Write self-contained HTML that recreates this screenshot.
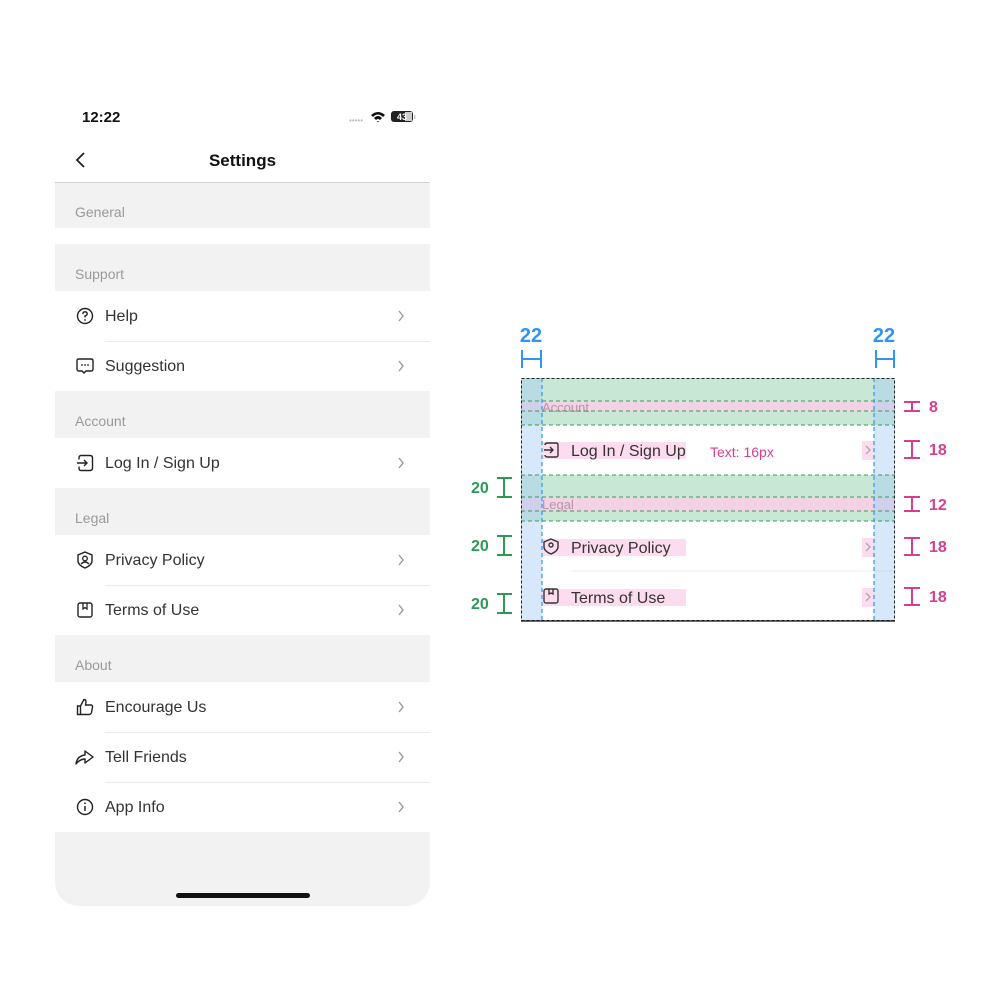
<!DOCTYPE html>
<html><head><meta charset="utf-8"><style>
*{margin:0;padding:0;box-sizing:border-box}
body{width:1000px;height:1000px;background:#fff;position:relative;overflow:hidden;font-family:"Liberation Sans",sans-serif}
.a{position:absolute}
.sec{position:absolute;left:55px;width:375px;background:#f2f2f2}
.sec span{position:absolute;left:20px;font-size:14px;color:#999}
.row{position:absolute;left:55px;width:375px;height:50px;background:#fff}
.row .t{position:absolute;left:50px;top:16px;font-size:16px;color:#333;line-height:20px}
.row .ch{position:absolute;left:342px;top:18px}
.row .ic{position:absolute;left:21px;top:16px}
.sep{position:absolute;left:105px;width:325px;height:1px;background:#ececec}
</style></head><body>
<div class="a" style="left:82px;top:109px;font-size:15px;font-weight:bold;color:#111">12:22</div>
<div class="a" style="left:349px;top:116px;font-size:8px;color:#bbb;letter-spacing:0px">•••••</div>
<svg class="a" style="left:370px;top:110px" width="48" height="14" viewBox="0 0 48 14">
<path d="M1 5 Q8 -1 15 5 L13 7 Q8 2 3 7Z M4 8 Q8 4 12 8 L10 10 Q8 8 6 10Z M7 11 L8 12.5 L9 11Z" fill="#111"/>
<rect x="21" y="1" width="22" height="11" rx="3" fill="#222"/><rect x="35" y="2" width="7" height="9" fill="#ccc"/>
<text x="27" y="10" font-size="9" font-weight="bold" fill="#fff" font-family="Liberation Sans">43</text>
<rect x="44" y="5" width="1.5" height="4" fill="#ccc"/></svg>
<svg class="a" style="left:74px;top:152px" width="12" height="16"><path d="M10 1 L3 8 L10 15" stroke="#222" stroke-width="1.8" fill="none"/></svg>
<div class="a" style="left:55px;width:375px;top:151px;text-align:center;font-size:17px;font-weight:bold;color:#111">Settings</div>
<div class="a" style="left:55px;top:182px;width:375px;height:1px;background:#d0d0d0"></div>

<div class="sec" style="top:183px;height:45px"><span style="top:21px">General</span></div>
<div class="sec" style="top:244px;height:47px"><span style="top:22px">Support</span></div>
<div class="row" style="top:291px"><svg class="ic" width="18" height="18"><circle cx="9" cy="9" r="7.5" stroke="#222" stroke-width="1.4" fill="none"/><path d="M6.8 7 Q7 4.8 9 4.8 Q11.2 4.8 11.2 6.8 Q11.2 8.3 9 9 L9 10.5" stroke="#222" stroke-width="1.4" fill="none"/><circle cx="9" cy="13" r="0.9" fill="#222"/></svg><span class="t">Help</span><svg class="ch" width="8" height="14"><path d="M2 2 L6 7 L2 12" stroke="#999" stroke-width="1.4" fill="none"/></svg></div>
<div class="sep" style="top:341px"></div>
<div class="row" style="top:342px;height:49px"><svg class="ic" width="18" height="18" style="top:15px"><path d="M3 2 H15 Q17 2 17 4 V12 Q17 14 15 14 H10 L8 16 L6 14 H3 Q1 14 1 12 V4 Q1 2 3 2Z" stroke="#222" stroke-width="1.4" fill="none"/><circle cx="6" cy="8" r=".9" fill="#222"/><circle cx="9" cy="8" r=".9" fill="#222"/><circle cx="12" cy="8" r=".9" fill="#222"/></svg><span class="t" style="top:15px">Suggestion</span><svg class="ch" width="8" height="14" style="top:17px"><path d="M2 2 L6 7 L2 12" stroke="#999" stroke-width="1.4" fill="none"/></svg></div>
<div class="sec" style="top:391px;height:47px"><span style="top:22px">Account</span></div>
<div class="row" style="top:438px"><svg class="ic" width="18" height="18"><path d="M5 1.5 H14 Q16.5 1.5 16.5 4 V14 Q16.5 16.5 14 16.5 H5 Q3 16.5 3 14 V12.5 M3 5.5 V4 Q3 1.5 5 1.5 M1 9 H11 M8 6 L11 9 L8 12" stroke="#222" stroke-width="1.4" fill="none"/></svg><span class="t">Log In / Sign Up</span><svg class="ch" width="8" height="14"><path d="M2 2 L6 7 L2 12" stroke="#999" stroke-width="1.4" fill="none"/></svg></div>
<div class="sec" style="top:488px;height:47px"><span style="top:22px">Legal</span></div>
<div class="row" style="top:535px"><svg class="ic" width="18" height="18"><path d="M9 1 L16 4 V10 Q16 14 9 17 Q2 14 2 10 V4Z" stroke="#222" stroke-width="1.4" fill="none"/><circle cx="9" cy="7.5" r="2.3" stroke="#222" stroke-width="1.3" fill="none"/><path d="M5 13 Q9 9 13 13" stroke="#222" stroke-width="1.3" fill="none"/></svg><span class="t">Privacy Policy</span><svg class="ch" width="8" height="14"><path d="M2 2 L6 7 L2 12" stroke="#999" stroke-width="1.4" fill="none"/></svg></div>
<div class="sep" style="top:585px"></div>
<div class="row" style="top:586px;height:49px"><svg class="ic" width="18" height="18" style="top:15px"><rect x="2" y="2" width="14" height="14" rx="2" stroke="#222" stroke-width="1.4" fill="none"/><path d="M7 2 V8 L9 6.5 L11 8 V2" stroke="#222" stroke-width="1.3" fill="none"/></svg><span class="t" style="top:15px">Terms of Use</span><svg class="ch" width="8" height="14" style="top:17px"><path d="M2 2 L6 7 L2 12" stroke="#999" stroke-width="1.4" fill="none"/></svg></div>
<div class="sec" style="top:635px;height:47px"><span style="top:22px">About</span></div>
<div class="row" style="top:682px"><svg class="ic" width="18" height="18"><path d="M1.5 8 H4.5 V16.5 H1.5Z M4.5 8 L8 1.5 Q10 1.5 10 4 L9.5 7 H15 Q16.8 7 16.5 9 L15.5 14.5 Q15 16.5 13 16.5 H4.5" stroke="#222" stroke-width="1.4" fill="none"/></svg><span class="t">Encourage Us</span><svg class="ch" width="8" height="14"><path d="M2 2 L6 7 L2 12" stroke="#999" stroke-width="1.4" fill="none"/></svg></div>
<div class="sep" style="top:732px"></div>
<div class="row" style="top:733px;height:49px"><svg class="ic" width="20" height="18" style="left:20px;top:15px"><path d="M1 16 Q2 8 10 7 V3 L18 9 L10 15 V11 Q5 11 1 16Z" stroke="#222" stroke-width="1.4" fill="none" stroke-linejoin="round"/></svg><span class="t" style="top:15px">Tell Friends</span><svg class="ch" width="8" height="14" style="top:17px"><path d="M2 2 L6 7 L2 12" stroke="#999" stroke-width="1.4" fill="none"/></svg></div>
<div class="sep" style="top:782px"></div>
<div class="row" style="top:783px;height:49px"><svg class="ic" width="18" height="18" style="top:15px"><circle cx="9" cy="9" r="7.5" stroke="#222" stroke-width="1.4" fill="none"/><path d="M9 8 V13" stroke="#222" stroke-width="1.5"/><circle cx="9" cy="5.3" r=".9" fill="#222"/></svg><span class="t" style="top:15px">App Info</span><svg class="ch" width="8" height="14" style="top:17px"><path d="M2 2 L6 7 L2 12" stroke="#999" stroke-width="1.4" fill="none"/></svg></div>
<div class="a" style="left:55px;top:832px;width:375px;height:74px;background:#f2f2f2;border-radius:0 0 24px 24px"></div>
<div class="a" style="left:176px;top:893px;width:134px;height:5px;border-radius:3px;background:#111"></div>

<svg class="a" style="left:0;top:0" width="1000" height="1000" font-family="Liberation Sans">
<rect x="521" y="378" width="374" height="243" fill="#fff"/>
<rect x="521" y="378" width="374" height="47" fill="#c9e7d5"/>
<rect x="521" y="475" width="374" height="46" fill="#c9e7d5"/>
<rect x="521" y="401" width="374" height="10" fill="#f3d2e6"/>
<rect x="521" y="497" width="374" height="14" fill="#f3d2e6"/>
<text x="542" y="412" font-size="13" fill="#b794a8">Account</text>
<text x="542" y="509" font-size="13" fill="#b794a8">Legal</text>
<rect x="542" y="442" width="144" height="17" fill="#fddcef"/>
<rect x="542" y="539" width="144" height="17" fill="#fddcef"/>
<rect x="542" y="589" width="144" height="17" fill="#fddcef"/>
<rect x="862" y="441" width="12" height="19" fill="#fddcef"/>
<rect x="862" y="538" width="12" height="19" fill="#fddcef"/>
<rect x="862" y="588" width="12" height="19" fill="#fddcef"/>
<line x1="571" y1="571" x2="895" y2="571" stroke="#ececec"/>
<g stroke="#333" stroke-width="1.4" fill="none">
<path d="M548 443 H556 Q558 443 558 445 V455 Q558 457 556 457 H548 Q545 457 545 455 M545 445 Q545 443 548 443 M544 450 H553 M550 447 L553 450 L550 453"/>
<path d="M551 539 L558 542 V547 Q558 551 551 554 Q544 551 544 547 V542Z"/><circle cx="551" cy="545" r="2"/>
<rect x="544" y="589" width="14" height="14" rx="2"/><path d="M549 589 V594 L551 593 L553 594 V589"/>
</g>
<g font-size="16" fill="#333"><text x="571" y="456">Log In / Sign Up</text><text x="571" y="553">Privacy Policy</text><text x="571" y="603">Terms of Use</text></g>
<text x="710" y="457" font-size="14" fill="#d63f8f">Text: 16px</text>
<g stroke="#aaa" stroke-width="1.3" fill="none"><path d="M866 446 L870 450 L866 454"/><path d="M866 543 L870 547 L866 551"/><path d="M866 593 L870 597 L866 601"/></g>
<rect x="521" y="378" width="21" height="243" fill="#a6ccf5" opacity=".45"/>
<rect x="874" y="378" width="21" height="243" fill="#a6ccf5" opacity=".45"/>
<g stroke="#3a9a5a" stroke-width="1" stroke-dasharray="4 3" fill="none">
<line x1="521" y1="401" x2="895" y2="401"/><line x1="521" y1="411" x2="895" y2="411"/><line x1="521" y1="425" x2="895" y2="425"/>
<line x1="521" y1="475" x2="895" y2="475"/><line x1="521" y1="497" x2="895" y2="497"/><line x1="521" y1="511" x2="895" y2="511"/><line x1="521" y1="521" x2="895" y2="521"/>
</g>
<g stroke="#2f95f5" stroke-width="1.2" stroke-dasharray="4 3"><line x1="542" y1="378" x2="542" y2="621"/><line x1="874" y1="378" x2="874" y2="621"/></g>
<rect x="521.5" y="378.5" width="373" height="242" fill="none" stroke="#222" stroke-dasharray="3 2"/>
<line x1="521" y1="621" x2="895" y2="621" stroke="#111" stroke-width="1.2"/>
<g fill="#2f95f5" font-size="20" font-weight="bold" text-anchor="middle"><text x="531" y="342">22</text><text x="884" y="342">22</text></g>
<g stroke="#2f95f5" stroke-width="2" fill="none"><path d="M522 350 V368 M541 350 V368 M522 359 H541"/><path d="M876 350 V368 M894 350 V368 M876 359 H894"/></g>
<g fill="#2a9a55" font-size="16" font-weight="bold"><text x="471" y="493">20</text><text x="471" y="551">20</text><text x="471" y="609">20</text></g>
<g stroke="#2a9a55" stroke-width="2" fill="none"><path d="M497 478 H512 M497 497 H512 M504 478 V497"/><path d="M497 536 H512 M497 555 H512 M504 536 V555"/><path d="M497 594 H512 M497 613 H512 M504 594 V613"/></g>
<g fill="#d63f8f" font-size="16" font-weight="bold"><text x="929" y="412">8</text><text x="929" y="455">18</text><text x="929" y="510">12</text><text x="929" y="552">18</text><text x="929" y="602">18</text></g>
<g stroke="#d63f8f" stroke-width="2" fill="none">
<path d="M904 402 H920 M904 411 H920 M912 402 V411"/>
<path d="M904 441 H920 M904 458 H920 M912 441 V458"/>
<path d="M904 497 H920 M904 511 H920 M912 497 V511"/>
<path d="M904 538 H920 M904 555 H920 M912 538 V555"/>
<path d="M904 588 H920 M904 605 H920 M912 588 V605"/>
</g>
</svg>
</body></html>
